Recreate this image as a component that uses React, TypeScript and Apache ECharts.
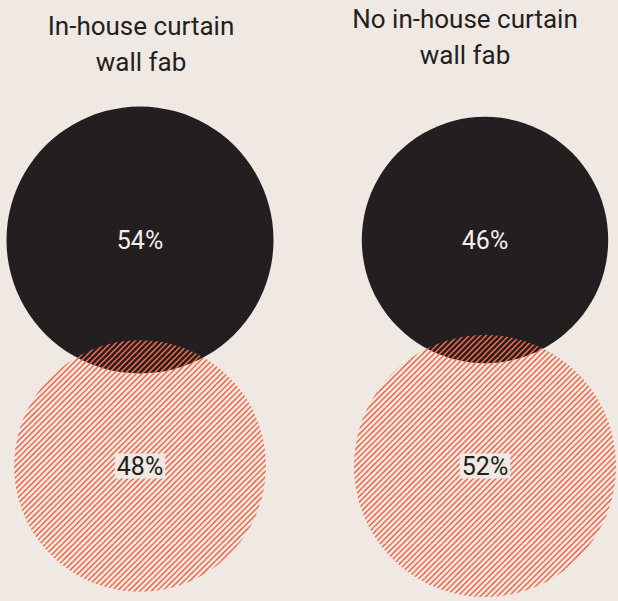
import React, { useEffect, useRef } from "react";
import * as echarts from "echarts";

const categories = ["In-house curtain wall fab", "No in-house curtain wall fab"];
const titleLines = [["In-house curtain", "wall fab"], ["No in-house curtain", "wall fab"]];
const rows = ["Top", "Bottom"];
const topValues = [54, 46];
const bottomValues = [48, 52];

const BG = "#efe8e3";
const DARK = "#231f20";
const RED = "#f26a4a";
const R_MAX = 133.5;
const V_MAX = 54;

function makeStripes(): HTMLCanvasElement {
  const s = 17;
  const c = document.createElement("canvas");
  c.width = s;
  c.height = s;
  const ctx = c.getContext("2d")!;
  ctx.strokeStyle = RED;
  ctx.lineWidth = 1.5;
  const p = s / 3;
  for (let k = -6; k <= 12; k++) {
    const off = k * p;
    ctx.beginPath();
    ctx.moveTo(off - s, s);
    ctx.lineTo(off + s, -s);
    ctx.stroke();
  }
  return c;
}

export default function App() {
  const ref = useRef<HTMLDivElement>(null);
  useEffect(() => {
    if (!ref.current) return;
    const chart = echarts.init(ref.current, null, { renderer: "svg" });
    const size = (v: number[]) => 2 * R_MAX * Math.sqrt(v[2] / V_MAX);
    const pattern = makeStripes();
    const titleStyle = {
      fill: DARK,
      font: "400 26px Roboto",
      lineHeight: 36,
      textAlign: "center",
      textVerticalAlign: "top",
    };
    chart.setOption({
      animation: false,
      backgroundColor: BG,
      grid: { left: 0, right: 0, top: 127, height: 452 },
      xAxis: { type: "value", min: -140 / 345, max: -140 / 345 + 618 / 345, show: false },
      yAxis: { type: "category", data: rows, inverse: true, show: false, boundaryGap: true },
      graphic: [
        {
          type: "text",
          x: 141,
          y: 8,
          style: { text: titleLines[0].join("\n"), ...titleStyle },
        },
        {
          type: "text",
          x: 465,
          y: 1,
          style: { text: titleLines[1].join("\n"), ...titleStyle },
        },
      ],
      series: [
        {
          name: "Top",
          type: "scatter",
          z: 2,
          symbol: "circle",
          symbolSize: size,
          data: topValues.map((v, i) => [i, rows[0], v]),
          itemStyle: { color: DARK, opacity: 1 },
          label: {
            show: true,
            position: "inside",
            formatter: (p: any) => p.value[2] + "%",
            color: "#f3eeea",
            fontSize: 25,
            fontFamily: "Roboto",
          },
          emphasis: { disabled: true },
        },
        {
          name: "Bottom",
          type: "custom",
          z: 5,
          data: bottomValues.map((v, i) => [i, 1, v]),
          encode: { x: 0, y: 1 },
          renderItem: (params: any, api: any) => {
            const c = api.coord([api.value(0), api.value(1)]);
            const v = api.value(2);
            const r = R_MAX * Math.sqrt(v / V_MAX);
            return {
              type: "group",
              children: [
                {
                  type: "circle",
                  shape: { cx: c[0], cy: c[1], r },
                  style: { fill: { image: pattern, repeat: "repeat" } },
                },
                {
                  type: "text",
                  x: c[0],
                  y: c[1],
                  style: {
                    text: v + "%",
                    fill: DARK,
                    font: "400 25px Roboto",
                    align: "center",
                    verticalAlign: "middle",
                    backgroundColor: BG,
                    padding: [0, 2],
                  },
                },
              ],
            };
          },
        },
      ],
    });
    return () => chart.dispose();
  }, []);
  return (
    <div
      ref={ref}
      style={{ position: "absolute", left: 0, top: 0, width: 618, height: 601 }}
    />
  );
}
